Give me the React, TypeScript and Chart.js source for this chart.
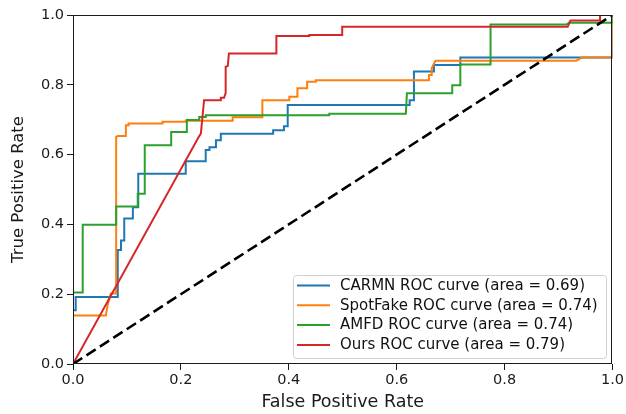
import React, { useEffect, useRef } from "react";
import { Chart, registerables } from "chart.js";

Chart.register(...registerables);

const seriesNames = [
  "CARMN ROC curve (area = 0.69)",
  "SpotFake ROC curve (area = 0.74)",
  "AMFD ROC curve (area = 0.74)",
  "Ours ROC curve (area = 0.79)",
];
const seriesColors = ["#1f77b4", "#ff7f0e", "#2ca02c", "#d62728"];

const fprCARMN = [0, 0, 0.005, 0.005, 0.083, 0.083, 0.089, 0.089, 0.095, 0.095, 0.111, 0.111, 0.121, 0.121, 0.209, 0.209, 0.246, 0.246, 0.253, 0.253, 0.265, 0.265, 0.274, 0.274, 0.371, 0.371, 0.391, 0.391, 0.398, 0.398, 0.624, 0.624, 0.632, 0.632, 0.669, 0.669, 0.718, 0.718, 0.937, 1.0, 1.0];
const tprCARMN = [0, 0.154, 0.154, 0.192, 0.192, 0.327, 0.327, 0.354, 0.354, 0.417, 0.417, 0.449, 0.449, 0.545, 0.545, 0.581, 0.581, 0.613, 0.613, 0.621, 0.621, 0.641, 0.641, 0.66, 0.66, 0.67, 0.67, 0.681, 0.681, 0.742, 0.742, 0.756, 0.756, 0.838, 0.838, 0.857, 0.857, 0.878, 0.878, 0.878, 1.0];

const fprSpotFake = [0, 0, 0.061, 0.064, 0.07, 0.08, 0.08, 0.083, 0.098, 0.098, 0.103, 0.103, 0.166, 0.166, 0.209, 0.209, 0.296, 0.296, 0.351, 0.351, 0.401, 0.401, 0.416, 0.416, 0.434, 0.434, 0.45, 0.45, 0.66, 0.66, 0.665, 0.665, 0.672, 0.933, 0.943, 1.0, 1.0];
const tprSpotFake = [0, 0.139, 0.139, 0.168, 0.202, 0.202, 0.651, 0.653, 0.653, 0.684, 0.684, 0.689, 0.689, 0.694, 0.694, 0.697, 0.697, 0.707, 0.707, 0.756, 0.756, 0.766, 0.766, 0.79, 0.79, 0.809, 0.809, 0.813, 0.813, 0.828, 0.828, 0.848, 0.869, 0.869, 0.878, 0.878, 1.0];

const fprAMFD = [0, 0, 0.018, 0.018, 0.08, 0.08, 0.12, 0.12, 0.133, 0.133, 0.182, 0.182, 0.211, 0.211, 0.234, 0.234, 0.246, 0.246, 0.475, 0.475, 0.617, 0.619, 0.703, 0.703, 0.718, 0.718, 0.774, 0.774, 0.915, 0.919, 1.0, 1.0];
const tprAMFD = [0, 0.205, 0.205, 0.399, 0.399, 0.451, 0.451, 0.488, 0.488, 0.627, 0.627, 0.665, 0.665, 0.699, 0.699, 0.708, 0.708, 0.713, 0.713, 0.717, 0.717, 0.776, 0.776, 0.799, 0.799, 0.858, 0.858, 0.973, 0.973, 0.978, 0.978, 1.0];

const fprOurs = [0, 0.234, 0.237, 0.243, 0.274, 0.274, 0.28, 0.283, 0.283, 0.287, 0.289, 0.377, 0.377, 0.438, 0.438, 0.499, 0.499, 0.917, 0.922, 0.977, 0.977, 1.0];
const tprOurs = [0, 0.653, 0.66, 0.756, 0.756, 0.763, 0.763, 0.776, 0.851, 0.854, 0.89, 0.89, 0.94, 0.94, 0.943, 0.943, 0.966, 0.966, 0.984, 0.984, 1.0, 1.0];

const fprChance = [0, 1];
const tprChance = [0, 1];

const xTicks = [0, 0.2, 0.4, 0.6, 0.8, 1.0];
const yTicks = [0, 0.2, 0.4, 0.6, 0.8, 1.0];

const FONT = "'DejaVu Sans', 'Liberation Sans', sans-serif";

function zip(xs: number[], ys: number[]) {
  return xs.map((x, i) => ({ x, y: ys[i] }));
}

const frameAndLegend = {
  id: "frameAndLegend",
  afterDatasetsDraw(chart: any) {
    const { ctx, chartArea } = chart;
    ctx.save();
    ctx.strokeStyle = "#1a1a1a";
    ctx.lineWidth = 1;
    ctx.strokeRect(
      Math.round(chartArea.left) + 0.5,
      Math.round(chartArea.top) + 0.5,
      Math.round(chartArea.right - chartArea.left) - 1,
      Math.round(chartArea.bottom - chartArea.top) - 1
    );
    // legend
    const bx = 293.5, by = 275.5, bw = 313, bh = 83;
    ctx.beginPath();
    ctx.roundRect(bx, by, bw, bh, 3);
    ctx.fillStyle = "rgba(255,255,255,0.85)";
    ctx.fill();
    ctx.strokeStyle = "#d0d0d0";
    ctx.stroke();
    ctx.font = `15px ${FONT}`;
    ctx.textBaseline = "middle";
    ctx.textAlign = "left";
    seriesNames.forEach((name, i) => {
      const cy = 285.5 + i * 19.8;
      ctx.beginPath();
      ctx.strokeStyle = seriesColors[i];
      ctx.lineWidth = 2;
      ctx.moveTo(297, cy);
      ctx.lineTo(330, cy);
      ctx.stroke();
      ctx.fillStyle = "#111";
      ctx.fillText(name, 340, cy + 0.5);
    });
    ctx.restore();
  },
};

export default function App() {
  const ref = useRef<HTMLCanvasElement>(null);
  useEffect(() => {
    if (!ref.current) return;
    const series = [
      [fprCARMN, tprCARMN],
      [fprSpotFake, tprSpotFake],
      [fprAMFD, tprAMFD],
      [fprOurs, tprOurs],
    ];
    const datasets: any[] = series.map((s, i) => ({
      label: seriesNames[i],
      data: zip(s[0], s[1]),
      showLine: true,
      borderColor: seriesColors[i],
      backgroundColor: seriesColors[i],
      borderWidth: 2,
      pointRadius: 0,
      tension: 0,
      clip: 0,
      order: 4 - i,
    }));
    datasets.push({
      label: "chance",
      data: zip(fprChance, tprChance),
      showLine: true,
      borderColor: "#000",
      borderWidth: 2.6,
      borderDash: [11, 5],
      pointRadius: 0,
      clip: 0,
      order: -1,
    });
    const tickFont = { family: FONT, size: 14.5 };
    const chart = new Chart(ref.current, {
      type: "scatter",
      data: { datasets },
      options: {
        animation: false,
        responsive: false,
        devicePixelRatio: 1,
        layout: { padding: { left: 0, top: 15, right: 12, bottom: 0 } },
        plugins: { legend: { display: false }, tooltip: { enabled: false } },
        scales: {
          x: {
            type: "linear",
            min: 0,
            max: 1,
            afterFit: (s: any) => { s.height = 50; },
            afterBuildTicks: (s: any) => { s.ticks = xTicks.map((v) => ({ value: v })); },
            ticks: { font: tickFont, color: "#1a1a1a", padding: 2, maxRotation: 0, callback: (v: any) => Number(v).toFixed(1) },
            grid: { display: true, drawOnChartArea: false, drawTicks: true, tickLength: 6, tickColor: "#1a1a1a" },
            border: { display: false },
            title: { display: true, text: "False Positive Rate", font: { family: FONT, size: 17.5 }, color: "#1a1a1a", padding: { top: 0, bottom: 1 } },
          },
          y: {
            type: "linear",
            min: 0,
            max: 1,
            afterFit: (s: any) => { s.width = 73; },
            afterBuildTicks: (s: any) => { s.ticks = yTicks.map((v) => ({ value: v })); },
            ticks: { font: tickFont, color: "#1a1a1a", padding: 3, callback: (v: any) => Number(v).toFixed(1) },
            grid: { display: true, drawOnChartArea: false, drawTicks: true, tickLength: 6, tickColor: "#1a1a1a" },
            border: { display: false },
            title: { display: true, text: "True Positive Rate", font: { family: FONT, size: 16.5 }, color: "#1a1a1a", padding: { top: 9, bottom: 0 } },
          },
        },
      },
      plugins: [frameAndLegend],
    } as any);
    return () => chart.destroy();
  }, []);
  return (
    <div style={{ position: "fixed", left: 0, top: 0, width: 626, height: 414, background: "#fff" }}>
      <canvas ref={ref} width={626} height={414} style={{ width: 626, height: 414, display: "block" }} />
    </div>
  );
}
